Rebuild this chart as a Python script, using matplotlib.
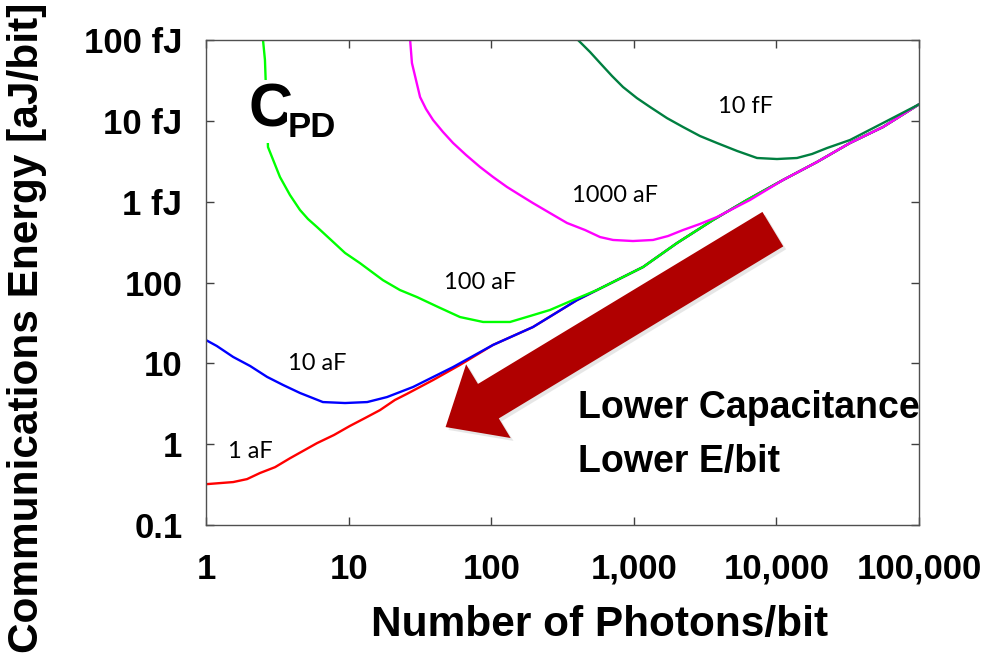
import matplotlib
matplotlib.use("Agg")
import matplotlib.pyplot as plt
from matplotlib.font_manager import FontProperties

# ---------------- data (photons/bit, aJ/bit) ----------------
# shared high-photon asymptote
asym_x = [103, 196, 400, 1161, 2010, 3590, 6220, 11120, 19270, 32800, 55900, 100000]
asym_y = [16.9, 28.1, 60.7, 155.5, 308, 593, 1050, 1854, 3097, 5320, 8390, 16000]

red_x = [1.0, 1.55, 1.94, 2.39, 3.05, 3.88, 6.0, 7.9, 10.2, 13.0, 16.6, 21.1, 25.7, 39, 60] + asym_x
red_y = [0.32, 0.34, 0.37, 0.44, 0.52, 0.67, 1.03, 1.30, 1.68, 2.10, 2.64, 3.52, 4.2, 6.2, 9.5] + asym_y

blue_x = [1.0, 1.19, 1.55, 2.04, 2.68, 3.47, 4.56, 6.6, 9.44, 13.5, 18.6, 28.3, 54] + asym_x
blue_y = [19.4, 16.4, 12.0, 9.27, 6.8, 5.4, 4.3, 3.32, 3.23, 3.32, 3.83, 5.1, 9.0] + asym_y

green_x = [2.51, 2.59, 2.72, 3.30, 3.88, 4.56, 5.19, 6.0, 7.8, 9.44, 12.0, 17.4, 22.9, 30.2,
           42.4, 60.4, 87.7, 135.5, 187, 258, 375, 552,
           1161, 2010, 3590, 6220, 11120, 19270, 32800, 55900, 100000]
green_y = [100000, 56600, 4740, 2020, 1208, 789, 610, 486, 317, 232, 174, 107, 80.7, 66,
           49.8, 37.4, 32.5, 32.5, 38.5, 45.7, 60.7, 80.7,
           155.5, 308, 593, 1050, 1854, 3097, 5320, 8390, 16000]

pink_x = [27.0, 27.8, 31.7, 34.9, 39.1, 45.9, 54.0, 66.6, 83.4, 103, 129, 159, 196, 258, 340,
          455, 580, 715, 986, 1364, 1738, 2214, 2910, 3830, 6530,
          11120, 19270, 32800, 55900, 100000]
pink_y = [100000, 51900, 19700, 14000, 10240, 7280, 5320, 3780, 2690, 2020, 1520, 1208, 962, 724, 545,
          446, 365, 336, 326, 336, 376, 446, 530, 646, 1050,
          1854, 3097, 5320, 8390, 16000]

dgreen_x = [406, 493, 580, 703, 840, 1052, 1300, 1710, 2214, 2910, 3830, 5300, 7310, 10090,
            13940, 17780, 22640, 32800, 55900, 100000]
dgreen_y = [100000, 71100, 51900, 35900, 26200, 19100, 14830, 10800, 8390, 6490, 5320, 4240, 3470, 3370,
            3470, 3890, 4610, 5790, 9400, 16000]

series_x = [red_x, blue_x, green_x, pink_x, dgreen_x]
series_y = [red_y, blue_y, green_y, pink_y, dgreen_y]
series_colors = ["#ff0000", "#0000ff", "#00ff00", "#ff00ff", "#007f40"]
curve_labels = ["1 aF", "10 aF", "100 aF", "1000 aF", "10 fF"]

x_ticks = [1, 10, 100, 1000, 10000, 100000]
x_tick_labels = ["1", "10", "100", "1,000", "10,000", "100,000"]
y_ticks = [0.1, 1, 10, 100, 1000, 10000, 100000]
y_tick_labels = ["0.1", "1", "10", "100", "1 fJ", "10 fJ", "100 fJ"]

# ---------------- figure ----------------
fig = plt.figure(figsize=(9.9, 6.59), dpi=100)
ax = fig.add_axes([0.2081, 0.2033, 0.7202, 0.7360])

for xs, ys, c in zip(series_x, series_y, series_colors):
    ax.plot(xs, ys, color=c, lw=1.7, solid_joinstyle="round")

ax.set_xscale("log")
ax.set_yscale("log")
ax.set_xlim(1, 100000)
ax.set_ylim(0.1, 100000)
ax.minorticks_off()
ax.set_xticks(x_ticks)
ax.set_xticklabels(x_tick_labels)
ax.set_yticks(y_ticks)
ax.set_yticklabels(y_tick_labels)

bold = dict(family=["Liberation Sans", "DejaVu Sans"], weight="bold")
for lab in ax.get_xticklabels():
    lab.set_fontproperties(FontProperties(size=25, **bold))
for lab in ax.get_yticklabels():
    lab.set_fontproperties(FontProperties(size=25, **bold))

ax.tick_params(axis="both", which="major", direction="in", length=6, width=1,
               color="#404040", top=True, right=True)
ax.tick_params(axis="x", pad=20)
ax.tick_params(axis="y", pad=17)
for sp in ax.spines.values():
    sp.set_color("#505050")
    sp.set_linewidth(1.0)

# axis titles
fig.text(0.606, 0.052, "Number of Photons/bit", ha="center", va="center",
         fontsize=30.5, **bold)
fig.text(0.027, 0.502, "Communications Energy [aJ/bit]", ha="center", va="center",
         rotation=90, fontsize=30.5, **bold)

# curve labels
lab_pos = [(0.031, 0.151), (0.115, 0.332), (0.334, 0.501), (0.513, 0.680), (0.718, 0.862)]
for (px, py), t in zip(lab_pos, curve_labels):
    ax.text(px, py, t, transform=ax.transAxes, ha="left", va="center",
            fontsize=17, family=["Lato", "DejaVu Sans"], color="black")

# C_PD label
ax.text(0.059, 0.821, "C", transform=ax.transAxes, ha="left", va="baseline",
        fontsize=44, zorder=5,
        bbox=dict(facecolor="white", edgecolor="none", pad=2), **bold)
ax.text(0.115, 0.800, "PD", transform=ax.transAxes, ha="left", va="baseline",
        fontsize=25, zorder=5,
        bbox=dict(facecolor="white", edgecolor="none", pad=1), **bold)

# arrow annotation (with soft shadow)
style = "simple,head_width=62,head_length=36,tail_width=29"
ax.annotate("", xy=(0.340, 0.196), xytext=(0.799, 0.604),
            xycoords="axes fraction", textcoords="axes fraction",
            arrowprops=dict(arrowstyle=style, mutation_scale=1, fc="#cfcfcf", ec="none",
                            shrinkA=0, shrinkB=0, alpha=0.5),
            zorder=3)
ax.annotate("", xy=(0.336, 0.202), xytext=(0.795, 0.610),
            xycoords="axes fraction", textcoords="axes fraction",
            arrowprops=dict(arrowstyle=style, mutation_scale=1, fc="#b00000", ec="none",
                            shrinkA=0, shrinkB=0),
            zorder=4)

ax.text(0.522, 0.241, "Lower Capacitance", transform=ax.transAxes, ha="left",
        va="center", fontsize=27, **bold)
ax.text(0.522, 0.130, "Lower E/bit", transform=ax.transAxes, ha="left",
        va="center", fontsize=27, **bold)

fig.savefig("out.png", dpi=100, facecolor="white")
